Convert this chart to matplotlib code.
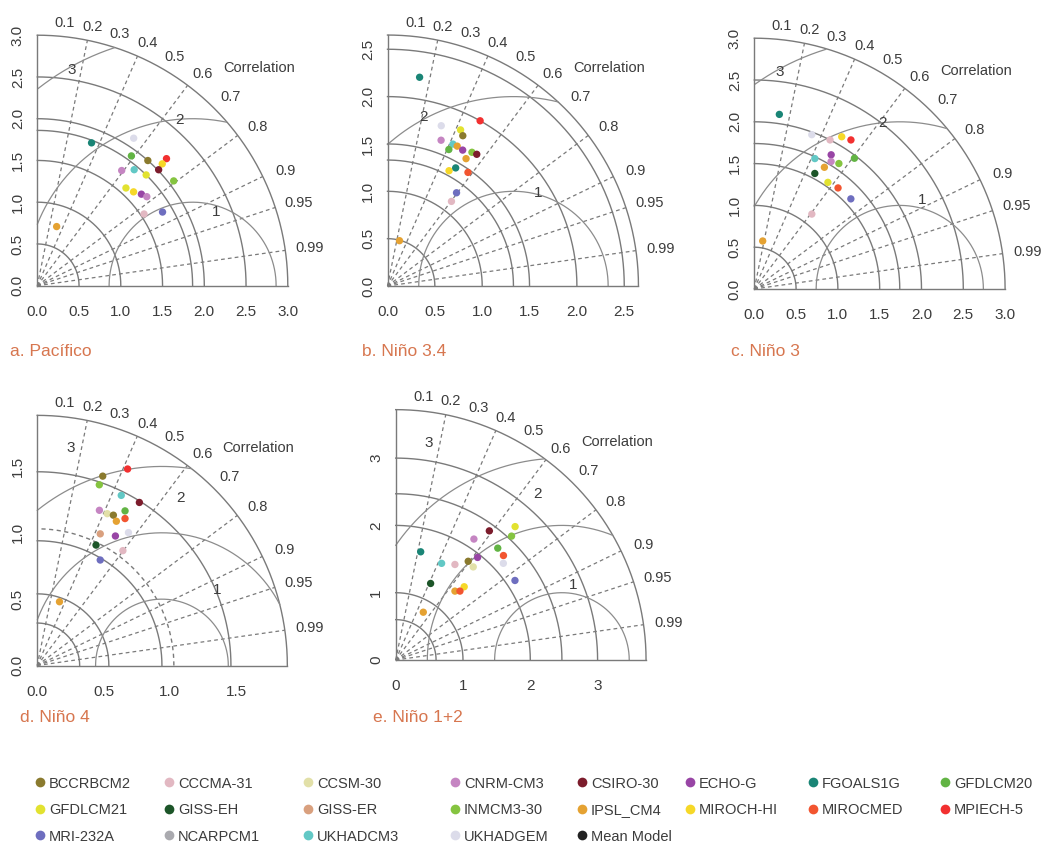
import numpy as np
import matplotlib
matplotlib.use("Agg")
import matplotlib.pyplot as plt
from matplotlib.lines import Line2D

plt.rcParams['font.family'] = ['Liberation Sans', 'DejaVu Sans']

W, H = 1043, 843
GRID = "#7a7a7a"
RMS = "#8c8c8c"
TXT = "#3c3c3c"
TITLE = "#d7764f"

models = ["BCCRBCM2", "CCCMA-31", "CCSM-30", "CNRM-CM3", "CSIRO-30", "ECHO-G",
          "FGOALS1G", "GFDLCM20", "GFDLCM21", "GISS-EH", "GISS-ER", "INMCM3-30",
          "IPSL_CM4", "MIROCH-HI", "MIROCMED", "MPIECH-5", "MRI-232A", "NCARPCM1",
          "UKHADCM3", "UKHADGEM", "Mean Model"]
model_colors = ["#8a7a2e", "#e2b8c2", "#e2e0a8", "#c585c2", "#7c1c2c", "#9845a5",
                "#1a8576", "#62b444", "#e2e230", "#1c5528", "#d9a07e", "#85c440",
                "#e5a232", "#f6d828", "#f25530", "#f23030", "#6e6ebf", "#aaaaaf",
                "#62c8c5", "#dcdcea", "#222222"]

corr_ticks = [0.1, 0.2, 0.3, 0.4, 0.5, 0.6, 0.7, 0.8, 0.9, 0.95, 0.99]
corr_lines = [0.2, 0.4, 0.6, 0.8, 0.9, 0.95, 0.99]

# a. Pacifico : model, standard deviation, correlation
pac_names = ["FGOALS1G", "UKHADGEM", "GFDLCM20", "BCCRBCM2", "MPIECH-5", "MIROCH-HI",
             "CSIRO-30", "CNRM-CM3", "UKHADCM3", "GFDLCM21", "INMCM3-30", "GFDLCM21",
             "MIROCH-HI", "ECHO-G", "CNRM-CM3", "CCCMA-31", "MRI-232A", "IPSL_CM4"]
pac_std = [1.83, 2.11, 1.92, 2.00, 2.17, 2.09, 2.01, 1.71, 1.81, 1.86, 2.06, 1.58,
           1.61, 1.66, 1.69, 1.54, 1.74, 0.745]
pac_corr = [0.355, 0.547, 0.587, 0.662, 0.713, 0.716, 0.723, 0.591, 0.641, 0.701, 0.793,
            0.672, 0.716, 0.751, 0.776, 0.830, 0.862, 0.311]

# b. Nino 3.4
n34_names = ["FGOALS1G", "MPIECH-5", "UKHADGEM", "GFDLCM21", "BCCRBCM2", "CNRM-CM3",
             "UKHADCM3", "IPSL_CM4", "GFDLCM20", "ECHO-G", "INMCM3-30", "CSIRO-30",
             "IPSL_CM4", "MIROCH-HI", "FGOALS1G", "MIROCMED", "MRI-232A", "CCCMA-31",
             "IPSL_CM4"]
n34_std = [2.23, 2.00, 1.785, 1.82, 1.775, 1.64, 1.65, 1.65, 1.58, 1.64, 1.67, 1.68,
           1.58, 1.38, 1.44, 1.47, 1.225, 1.12, 0.495]
n34_corr = [0.152, 0.489, 0.318, 0.424, 0.448, 0.345, 0.419, 0.446, 0.41, 0.484, 0.534,
            0.561, 0.525, 0.471, 0.50, 0.578, 0.595, 0.603, 0.256]

# c. Nino 3
n3_names = ["FGOALS1G", "UKHADGEM", "CCCMA-31", "MIROCH-HI", "MPIECH-5", "ECHO-G",
            "UKHADCM3", "CNRM-CM3", "INMCM3-30", "GFDLCM20", "IPSL_CM4", "GISS-EH",
            "GFDLCM21", "MIROCMED", "MRI-232A", "CCCMA-31", "IPSL_CM4"]
n3_std = [2.11, 1.97, 2.00, 2.10, 2.125, 1.85, 1.72, 1.78, 1.81, 1.97, 1.68, 1.56,
          1.55, 1.57, 1.58, 1.13, 0.583]
n3_corr = [0.142, 0.349, 0.453, 0.498, 0.544, 0.497, 0.421, 0.516, 0.559, 0.608, 0.499,
           0.464, 0.568, 0.638, 0.731, 0.609, 0.172]

# d. Nino 4
n4_names = ["MPIECH-5", "BCCRBCM2", "INMCM3-30", "UKHADCM3", "CSIRO-30", "CNRM-CM3",
            "CCSM-30", "BCCRBCM2", "GFDLCM20", "IPSL_CM4", "MIROCMED", "GISS-ER",
            "ECHO-G", "UKHADGEM", "GISS-EH", "CCCMA-31", "MRI-232A", "IPSL_CM4"]
n4_std = [1.63, 1.51, 1.44, 1.43, 1.45, 1.26, 1.26, 1.27, 1.34, 1.24, 1.29, 1.10,
          1.14, 1.215, 1.01, 1.08, 0.926, 0.509]
n4_corr = [0.418, 0.327, 0.325, 0.443, 0.531, 0.372, 0.419, 0.452, 0.494, 0.481, 0.513,
           0.432, 0.517, 0.566, 0.439, 0.598, 0.513, 0.33]

# e. Nino 1+2
n12_names = ["GFDLCM21", "CSIRO-30", "INMCM3-30", "CNRM-CM3", "FGOALS1G", "GFDLCM20",
             "MIROCMED", "ECHO-G", "BCCRBCM2", "UKHADCM3", "CCCMA-31", "CCSM-30",
             "UKHADGEM", "GISS-EH", "MRI-232A", "MIROCH-HI", "IPSL_CM4", "MIROCMED",
             "IPSL_CM4"]
n12_std = [2.66, 2.37, 2.52, 2.14, 1.65, 2.25, 2.23, 1.95, 1.82, 1.59, 1.67, 1.80,
           2.15, 1.25, 2.13, 1.49, 1.35, 1.40, 0.82]
n12_corr = [0.667, 0.587, 0.683, 0.543, 0.225, 0.674, 0.718, 0.624, 0.592, 0.429, 0.527,
            0.640, 0.744, 0.415, 0.832, 0.683, 0.652, 0.682, 0.50]

titles = ["a. Pacífico", "b. Niño 3.4", "c. Niño 3", "d. Niño 4", "e. Niño 1+2"]
rms_labels = ["1", "2", "3"]

# layout: origin in pixels (from top-left), pixels per unit, outer radius,
# reference sd, solid sd arcs, rms radii, label places (fraction of radius)
panels = [
    dict(names=pac_names, std=pac_std, corr=pac_corr, origin=(37.3, 285.7), unit=83.5,
         rmax=3.0, ref=1.86, arcs=[0.5, 1.0, 1.5, 1.86, 2.0, 2.5], dashed=None,
         rms=[1, 2, 3], rms_pos=[(0.713, 0.293), (0.567, 0.66), (0.137, 0.86)],
         ticks=[0, 0.5, 1, 1.5, 2, 2.5, 3], fmt="%.1f", title_xy=(10, 352)),
    dict(names=n34_names, std=n34_std, corr=n34_corr, origin=(387.5, 286), unit=94.7,
         rmax=2.65, ref=1.33, arcs=[0.5, 1.0, 1.33, 1.5, 2.0, 2.5], dashed=None,
         rms=[1, 2], rms_pos=[(0.60, 0.37), (0.145, 0.675)],
         ticks=[0, 0.5, 1, 1.5, 2, 2.5], fmt="%.1f", title_xy=(362, 352)),
    dict(names=n3_names, std=n3_std, corr=n3_corr, origin=(754.3, 289), unit=83.6,
         rmax=3.0, ref=1.74, arcs=[0.5, 1.0, 1.5, 1.74, 2.0, 2.5], dashed=None,
         rms=[1, 2, 3], rms_pos=[(0.668, 0.355), (0.51, 0.66), (0.10, 0.867)],
         ticks=[0, 0.5, 1, 1.5, 2, 2.5, 3], fmt="%.1f", title_xy=(731, 352)),
    dict(names=n4_names, std=n4_std, corr=n4_corr, origin=(37.2, 665.5), unit=132.7,
         rmax=1.885, ref=0.94, arcs=[0.32, 0.54, 0.94, 1.46], dashed=1.03,
         rms=[0.5, 1.0, 1.5], rms_pos=[(0.718, 0.303), (0.572, 0.67), (0.133, 0.87)],
         ticks=[0, 0.5, 1, 1.5], fmt="%.1f", title_xy=(20, 718)),
    dict(names=n12_names, std=n12_std, corr=n12_corr, origin=(395.7, 660), unit=67.3,
         rmax=3.72, ref=2.47, arcs=[0.6, 1.0, 2.0, 2.47, 3.0], dashed=None,
         rms=[1, 2, 3], rms_pos=[(0.708, 0.30), (0.565, 0.665), (0.132, 0.865)],
         ticks=[0, 1, 2, 3], fmt="%d", title_xy=(373, 717)),
]


def taylor(ax, p):
    rmax = p["rmax"]
    t = np.linspace(0, np.pi / 2, 300)
    for r in p["arcs"] + [rmax]:
        ax.plot(r * np.cos(t), r * np.sin(t), color=GRID, lw=1.0, clip_on=False)
    if p["dashed"]:
        r = p["dashed"]
        ax.plot(r * np.cos(t), r * np.sin(t), color=GRID, lw=1.0, ls=(0, (3, 2.5)),
                clip_on=False)

    # correlation rays
    for c in corr_lines:
        th = np.arccos(c)
        ax.plot([0, rmax * np.cos(th)], [0, rmax * np.sin(th)], color=GRID, lw=0.9,
                ls=(0, (3, 2.5)), clip_on=False)

    # centred rms circles
    tt = np.linspace(0, np.pi, 500)
    for g, lab, (px, py) in zip(p["rms"], rms_labels, p["rms_pos"]):
        x = p["ref"] + g * np.cos(tt)
        y = g * np.sin(tt)
        ok = (x >= 0) & (x ** 2 + y ** 2 <= rmax ** 2)
        ax.plot(np.where(ok, x, np.nan), np.where(ok, y, np.nan), color=RMS, lw=0.9,
                clip_on=False)
        ax.text(px * rmax, py * rmax, lab, ha="center", va="center", fontsize=11,
                color=TXT)

    for c in corr_ticks:
        th = np.arccos(c)
        ax.annotate("%g" % c, (1.055 * rmax * np.cos(th), 1.055 * rmax * np.sin(th)),
                    xytext=(8 * np.cos(th), 0), textcoords="offset points",
                    ha="center", va="center", fontsize=10.5, color=TXT,
                    annotation_clip=False)
    ax.text(0.885 * rmax, 0.87 * rmax, "Correlation", ha="center", va="center",
            fontsize=10.5, color=TXT)

    sd = np.array(p["std"])
    cr = np.array(p["corr"])
    cols = [model_colors[models.index(n)] for n in p["names"]]
    ax.scatter(sd * cr, sd * np.sin(np.arccos(cr)), c=cols, s=28, linewidths=0,
               zorder=5, clip_on=False)

    ax.set_xlim(0, rmax)
    ax.set_ylim(0, rmax)
    for s in ["top", "right"]:
        ax.spines[s].set_visible(False)
    for s in ["left", "bottom"]:
        ax.spines[s].set_bounds(0, rmax)
        ax.spines[s].set_color(GRID)
        ax.spines[s].set_linewidth(1.0)
    labels = [p["fmt"] % v for v in p["ticks"]]
    ax.set_xticks(p["ticks"])
    ax.set_xticklabels(labels)
    ax.set_yticks(p["ticks"])
    ax.set_yticklabels(labels, rotation=90, va="center")
    ax.tick_params(axis="x", length=0, pad=14, labelsize=11, labelcolor=TXT)
    ax.tick_params(axis="y", length=0, pad=9, labelsize=11, labelcolor=TXT)


fig = plt.figure(figsize=(W / 100, H / 100), dpi=100)
for p, title in zip(panels, titles):
    ox, oy = p["origin"]
    size = p["rmax"] * p["unit"]
    ax = fig.add_axes([ox / W, (H - oy) / H, size / W, size / H])
    ax.patch.set_alpha(0)
    taylor(ax, p)
    tx, ty = p["title_xy"]
    fig.text(tx / W, 1 - ty / H, title, ha="left", va="center", fontsize=12.5,
             color=TITLE)

# legend, eight columns filled row by row
col_x = [40, 169, 308, 455, 582, 690, 813, 945]
for j, cx in enumerate(col_x):
    idx = [i for i in (j, j + 8, j + 16) if i < len(models)]
    handles = [Line2D([], [], ls="none", marker="o", ms=7, mfc=model_colors[i],
                      mec="none") for i in idx]
    fig.legend(handles, [models[i] for i in idx], loc="upper left",
               bbox_to_anchor=((cx - 5) / W, 1 - 776.5 / H), frameon=False,
               borderpad=0, borderaxespad=0, handlelength=0.7, handletextpad=0.25,
               labelspacing=0.86, fontsize=10.5, labelcolor=TXT)

fig.savefig("out.png", dpi=100)
